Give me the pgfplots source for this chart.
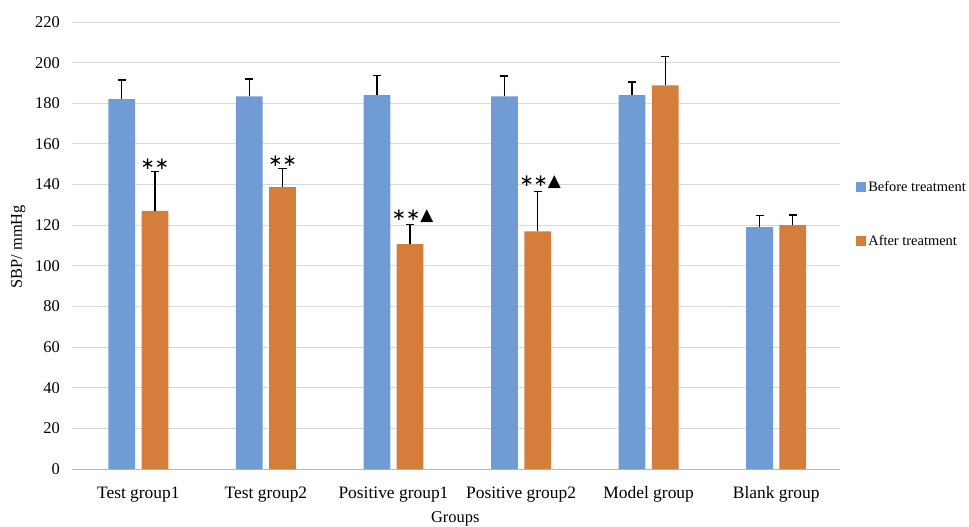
\documentclass[border=0pt]{standalone}
\usepackage{fontspec}
\setmainfont{Liberation Serif}
\newfontfamily\symfont{DejaVu Sans}
\usepackage{pgfplots}
\usepackage{pgfplotstable}
\pgfplotsset{compat=1.18}
\definecolor{cBefore}{RGB}{112,155,212}
\definecolor{cAfter}{RGB}{213,125,58}
\pgfplotstableread{
x b be a ae
0 182.0 9.5 127.0 19.5
1 183.4 8.5 138.7 9.2
2 184.0 9.6 110.7 9.6
3 183.4 10.0 117.0 19.7
4 184.0 6.5 188.8 14.2
5 119.0 5.6 120.0 5.0
}\datatable
\begin{document}
\begin{tikzpicture}
\begin{axis}[
  at={(0,0)}, anchor=south west,
  scale only axis, width=768bp, height=447bp,
  ymin=0, ymax=220, ytick={0,20,...,220},
  xmin=-0.52, xmax=5.5,
  xtick={0,...,5},
  xticklabels={Test group1, Test group2, Positive group1, Positive group2, Model group, Blank group},
  ybar, bar width=0.21,
  axis x line*=bottom, axis y line*=left,
  y axis line style={draw=none},
  x axis line style={draw=black!28, line width=0.9bp},
  tick style={draw=none}, major tick length=0pt,
  ymajorgrids, grid style={draw=black!15, line width=0.9bp},
  /pgf/number format/assume math mode=true,
  tick label style={font=\fontsize{16.5}{16.5}\selectfont},
  xticklabel style={font=\fontsize{17.5}{17.5}\selectfont},
  yticklabel style={anchor=east, inner sep=0pt, xshift=-12bp},
  xticklabel style={anchor=base, inner sep=0pt, yshift=-29.5bp},
  ylabel={SBP/ mmHg},
  ylabel style={at={(axis description cs:-0.070,0.497)}, anchor=center, font=\fontsize{16.5}{16.5}\selectfont},
  xlabel={Groups},
  xlabel style={at={(axis description cs:0.499,-0.112)}, anchor=center, font=\fontsize{16.5}{16.5}\selectfont},
  legend style={at={(1.021,0.57)}, anchor=west, draw=none, fill=none,
    font=\fontsize{14.5}{14.5}\selectfont, row sep=38bp, inner sep=0pt},
  legend cell align=left,
  legend image code/.code={\fill[#1] (0bp,-5bp) rectangle (10bp,5bp);},
  error bars/y dir=plus, error bars/y explicit,
  error bars/error bar style={black, line width=1.2bp},
  error bars/error mark options={rotate=90, black, mark size=4bp, line width=1.2bp},
]
\addplot[draw=none, fill=cBefore, bar shift=-0.13] table[x=x, y=b, y error=be] {\datatable};
\addlegendentry{Before treatment}
\addplot[draw=none, fill=cAfter, bar shift=0.13] table[x=x, y=a, y error=ae] {\datatable};
\addlegendentry{After treatment}
\node[anchor=south, inner sep=2bp, font=\fontsize{17}{17}\selectfont\symfont] at (axis cs:0.13,146.5) {∗∗};
\node[anchor=south, inner sep=2bp, font=\fontsize{17}{17}\selectfont\symfont] at (axis cs:1.13,147.9) {∗∗};
\node[anchor=south, inner sep=2bp, font=\fontsize{17}{17}\selectfont\symfont] at (axis cs:2.15,120.3) {∗∗▲};
\node[anchor=south, inner sep=2bp, font=\fontsize{17}{17}\selectfont\symfont] at (axis cs:3.15,136.7) {∗∗▲};
\end{axis}
\pgfresetboundingbox
\path[use as bounding box] (-72bp,-58bp) rectangle (897bp,469bp);
\end{tikzpicture}
\end{document}
